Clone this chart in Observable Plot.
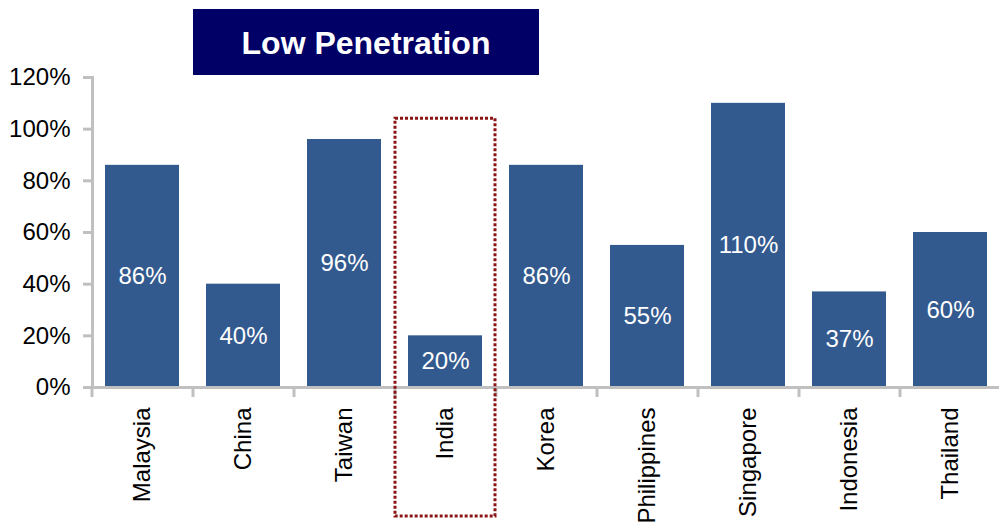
<!DOCTYPE html>
<html>
<head>
<meta charset="utf-8">
<script src="https://cdn.jsdelivr.net/npm/d3@7"></script>
<script src="https://cdn.jsdelivr.net/npm/@observablehq/plot@0.6"></script>
<style>
  html, body { margin: 0; padding: 0; background: #fff; }
  #wrap { position: relative; width: 999px; height: 530px; overflow: hidden; font-family: "Liberation Sans", Arial, sans-serif; }
  #title {
    position: absolute; left: 193px; top: 9px; width: 346px; height: 66px;
    background: #000066; color: #fff; font-weight: bold; font-size: 32px;
    display: flex; align-items: center; justify-content: center; box-sizing: border-box; padding-top: 2px;
  }
  #chart { position: absolute; left: 0; top: 0; }
</style>
</head>
<body>
<div id="wrap">
  <div id="chart"></div>
  <div id="title">Low Penetration</div>
</div>
<script>
// ---- data ----
const countries = ["Malaysia", "China", "Taiwan", "India", "Korea", "Philippines", "Singapore", "Indonesia", "Thailand"];
const penetration = [86, 40, 96, 20, 86, 55, 110, 37, 60];
const yTicks = [0, 20, 40, 60, 80, 100, 120];
const highlighted = ["India"];
const highlightTop = 104; // top of the dotted highlight box, in axis units

const rows = countries.map((c, i) => ({country: c, value: penetration[i]}));

// ---- layout ----
const W = 999, H = 530;
const xStart = 92, xEnd = 1001;
const mTop = 77, mBottom = 143;
const step = (xEnd - xStart) / countries.length;
const axisGray = "#c0c0c0";
const barColor = "#335a8e";

const chart = Plot.plot({
  width: W,
  height: H,
  marginLeft: xStart,
  marginRight: 0,
  marginTop: mTop,
  marginBottom: mBottom,
  style: {fontFamily: "'Liberation Sans', Arial, sans-serif", background: "transparent", overflow: "visible"},
  x: {domain: countries, range: [xStart, xEnd], paddingInner: 0.267, paddingOuter: 0.1335, label: null},
  y: {domain: [0, 120], label: null},
  marks: [
    Plot.barY(rows, {x: "country", y: "value", fill: barColor}),
    Plot.text(rows, {x: "country", y: d => d.value / 2, text: d => d.value + "%", fill: "white", fontSize: 24}),
    Plot.ruleY([0], {stroke: axisGray, strokeWidth: 3}),
    Plot.ruleX(countries, {x: d => d, dx: -step / 2, y1: 0, y2: 0, insetBottom: -10, stroke: axisGray, strokeWidth: 3}),
    Plot.frame({anchor: "left", stroke: axisGray, strokeWidth: 3}),
    Plot.axisY({ticks: yTicks, tickFormat: d => d + "%", tickSize: 9, tickPadding: 13, fontSize: 24, stroke: axisGray, strokeWidth: 3, fill: "black", label: null}),
    Plot.axisX({tickSize: 0, tickPadding: 20, tickRotate: -90, fontSize: 24, fill: "black", label: null}),
    Plot.barY(highlighted, {x: d => d, y1: 0, y2: highlightTop, insetBottom: -129, insetLeft: -13, insetRight: -13,
      fill: "none", stroke: "#8b1515", strokeWidth: 3, strokeDasharray: "3,2"})
  ]
});
document.getElementById("chart").appendChild(chart);
</script>
</body>
</html>
